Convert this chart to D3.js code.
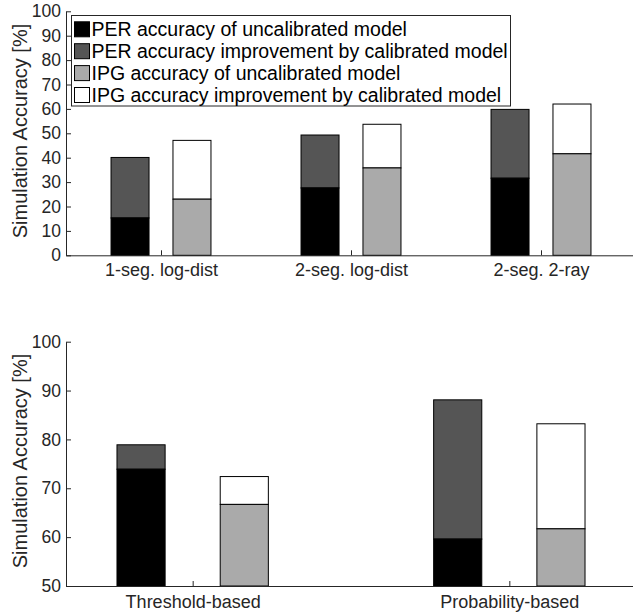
<!DOCTYPE html>
<html>
<head>
<meta charset="utf-8">
<script src="https://cdn.jsdelivr.net/npm/d3@7"></script>
<style>
  html, body { margin: 0; padding: 0; background: #fff; }
  svg { display: block; font-family: "Liberation Sans", Arial, Helvetica, sans-serif; }
</style>
</head>
<body>
<svg id="chart" width="633" height="612"></svg>
<script>
// ---- Data ----
const topCategories = ["1-seg. log-dist", "2-seg. log-dist", "2-seg. 2-ray"];
const topPerUncal = [15.3, 27.6, 31.6];
const topPerCal   = [40.1, 49.3, 59.8];
const topIpgUncal = [23.0, 35.8, 41.6];
const topIpgCal   = [47.1, 53.7, 62.0];
const topYTicks = [0, 10, 20, 30, 40, 50, 60, 70, 80, 90, 100];

const bottomCategories = ["Threshold-based", "Probability-based"];
const bottomPerUncal = [73.9, 59.6];
const bottomPerCal   = [78.9, 88.1];
const bottomIpgUncal = [66.7, 61.7];
const bottomIpgCal   = [72.4, 83.2];
const bottomYTicks = [50, 60, 70, 80, 90, 100];

const legendLabels = [
  "PER accuracy of uncalibrated model",
  "PER accuracy improvement by calibrated model",
  "IPG accuracy of uncalibrated model",
  "IPG accuracy improvement by calibrated model"
];
const legendColors = ["#000000", "#555555", "#aaaaaa", "#ffffff"];

// ---- Drawing ----
const svg = d3.select("#chart");
const axisColor = "#262626";

function drawPanel(opts) {
  const { categories, perUncal, perCal, ipgUncal, ipgCal, yTicks,
          xDomain, yDomain, top, bottom, left, right, barW, offset, labelY, yLabelCenter } = opts;
  const x = d3.scaleLinear().domain(xDomain).range([left, right]);
  const y = d3.scaleLinear().domain(yDomain).range([bottom, top]);
  const g = svg.append("g");

  // bars
  categories.forEach((c, i) => {
    const pos = i + 1;
    const bars = [
      { cx: pos - offset, lo: perUncal[i], hi: perCal[i], c0: legendColors[0], c1: legendColors[1] },
      { cx: pos + offset, lo: ipgUncal[i], hi: ipgCal[i], c0: legendColors[2], c1: legendColors[3] }
    ];
    bars.forEach(b => {
      const x0 = x(b.cx - barW / 2), x1 = x(b.cx + barW / 2);
      g.append("rect")
        .attr("x", x0).attr("width", x1 - x0)
        .attr("y", y(b.hi)).attr("height", y(b.lo) - y(b.hi))
        .attr("fill", b.c1).attr("stroke", "#000").attr("stroke-width", 1);
      g.append("rect")
        .attr("x", x0).attr("width", x1 - x0)
        .attr("y", y(b.lo)).attr("height", y(yDomain[0]) - y(b.lo))
        .attr("fill", b.c0).attr("stroke", "#000").attr("stroke-width", 1);
    });
  });

  // y axis
  const yAxis = d3.axisLeft(y).tickValues(yTicks).tickSizeInner(-5).tickSizeOuter(0).tickPadding(5);
  const ya = g.append("g").attr("transform", `translate(${left},0)`).call(yAxis);
  ya.select(".domain").attr("stroke", axisColor);
  ya.selectAll(".tick line").attr("stroke", axisColor);
  ya.selectAll(".tick text").attr("fill", axisColor).attr("font-size", 17.5).attr("x", -5);
  ya.attr("font-family", null);

  // x axis
  const xAxis = d3.axisBottom(x).tickValues(categories.map((d, i) => i + 1))
    .tickFormat((d, i) => categories[i]).tickSizeInner(-5).tickSizeOuter(0).tickPadding(12);
  const xa = g.append("g").attr("transform", `translate(0,${bottom})`).call(xAxis);
  xa.select(".domain").attr("stroke", axisColor);
  xa.selectAll(".tick line").attr("stroke", axisColor);
  xa.selectAll(".tick text").attr("fill", axisColor).attr("font-size", 18)
    .attr("dy", null).attr("y", labelY - bottom);
  xa.attr("font-family", null);

  // y label
  g.append("text")
    .attr("transform", `translate(27,${yLabelCenter}) rotate(-90)`)
    .attr("text-anchor", "middle")
    .attr("font-size", 20)
    .attr("fill", axisColor)
    .text("Simulation Accuracy [%]");
  return { x, y };
}

drawPanel({
  categories: topCategories, perUncal: topPerUncal, perCal: topPerCal,
  ipgUncal: topIpgUncal, ipgCal: topIpgCal, yTicks: topYTicks,
  xDomain: [0.5, 3.5], yDomain: [0, 100], top: 11.3, bottom: 255.3, left: 66, right: 636,
  barW: 0.2, offset: 0.163, labelY: 276.5, yLabelCenter: 131
});

drawPanel({
  categories: bottomCategories, perUncal: bottomPerUncal, perCal: bottomPerCal,
  ipgUncal: bottomIpgUncal, ipgCal: bottomIpgCal, yTicks: bottomYTicks,
  xDomain: [0.6, 2.4], yDomain: [50, 100], top: 341.7, bottom: 586, left: 66, right: 636,
  barW: 0.152, offset: 0.163, labelY: 608, yLabelCenter: 461
});

// legend
const lg = svg.append("g");
lg.append("rect").attr("x", 71.5).attr("y", 15.5).attr("width", 439).attr("height", 90.5)
  .attr("fill", "#fff").attr("stroke", axisColor).attr("stroke-width", 1);
legendLabels.forEach((t, i) => {
  const cy = 29.3 + i * 21.9;
  lg.append("rect").attr("x", 74.5).attr("y", cy - 7.5).attr("width", 15).attr("height", 15)
    .attr("fill", legendColors[i]).attr("stroke", "#000").attr("stroke-width", 1);
  lg.append("text").attr("x", 91.5).attr("y", cy).attr("dy", "0.35em")
    .attr("font-size", 19.5).attr("fill", "#000").text(t);
});
</script>
</body>
</html>
